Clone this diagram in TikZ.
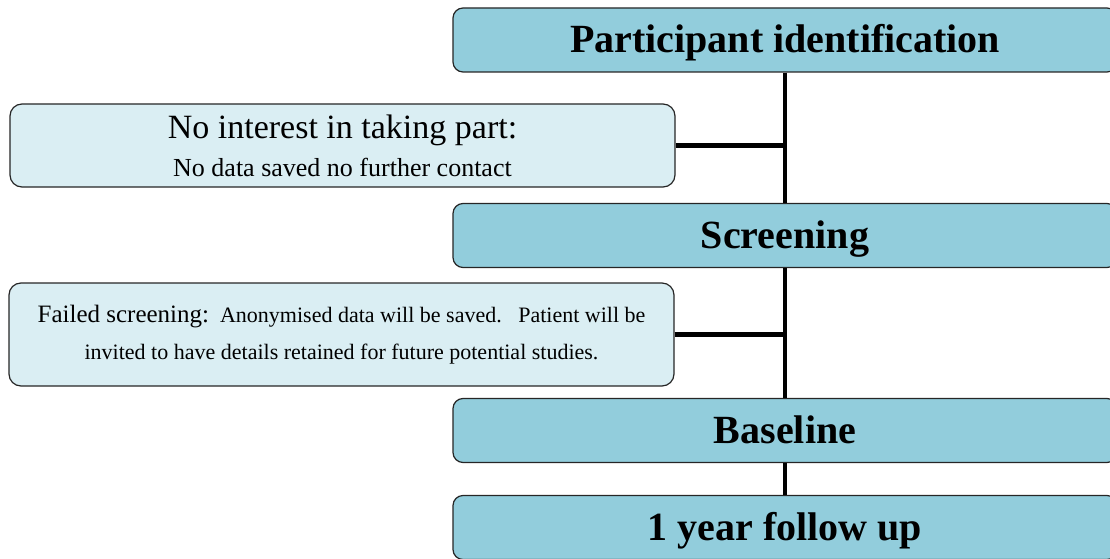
\documentclass[tikz,border=0pt]{standalone}
\usepackage{fontspec}
\setmainfont{Liberation Serif}
\usetikzlibrary{positioning}

\definecolor{stagefill}{HTML}{92CDDC}
\definecolor{notefill}{HTML}{DAEEF3}
\tikzset{
  stage/.style={draw=black!85, line width=1.2pt, rounded corners=10pt, fill=stagefill,
    minimum width=664pt, minimum height=64pt, inner sep=0pt,
    text height=30pt, text depth=4pt,
    font=\fontsize{40}{44}\selectfont\bfseries},
  note/.style={draw=black!85, line width=1.2pt, rounded corners=12pt, fill=notefill,
    minimum width=665pt, inner sep=0pt, align=center},
  trunk/.style={line width=4.5pt}
}

\begin{document}
\begin{tikzpicture}[x=1pt,y=-1pt]
  \useasboundingbox (0,0) rectangle (1110,559);
  \clip (0,0) rectangle (1110,559);
  % main stages
  \node[stage] (pid) at (785,40) {Participant identification};
  \node[stage] (scr) at (785,235.5) {Screening};
  \node[stage] (base) at (785,430.5) {Baseline};
  \node[stage] (fu) at (785,527.5) {1 year follow up};
  % side notes
  \node[note, minimum height=83pt, font=\fontsize{26}{38}\selectfont] (nointerest) at (342.5,145.5)
    {{\fontsize{34}{38}\selectfont No interest in taking part:}\\No data saved no further contact};
  \node[note, minimum height=103pt, font=\fontsize{22}{37}\selectfont] (failed) at (341.5,334.5)
    {{\fontsize{25}{37}\selectfont Failed screening:}\ \ Anonymised data will be saved.\ \ \ Patient will be\\invited to have details retained for future potential studies.};
  \coordinate (j1) at (nointerest.east -| pid.south);
  \coordinate (j2) at (failed.east -| scr.south);
  % connectors
  \draw[trunk] (pid) -- (scr);
  \draw[trunk] (scr) -- (base);
  \draw[trunk] (base) -- (fu);
  \draw[trunk] (nointerest) -- (j1);
  \draw[trunk] (failed) -- (j2);
\end{tikzpicture}
\end{document}
